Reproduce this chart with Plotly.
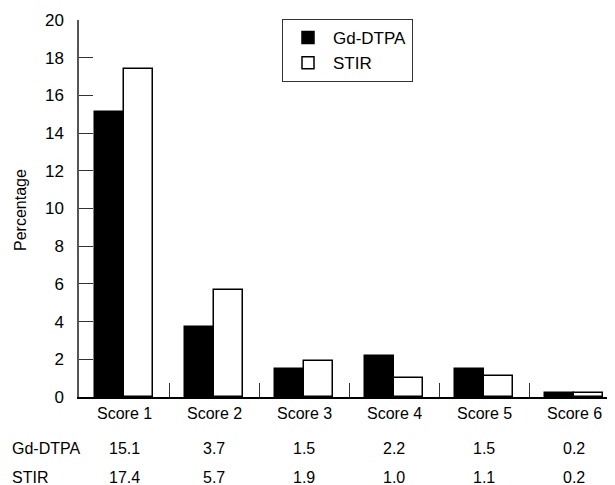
import plotly.graph_objects as go

categories = ["Score 1", "Score 2", "Score 3", "Score 4", "Score 5", "Score 6"]
gd_dtpa = [15.1, 3.7, 1.5, 2.2, 1.5, 0.2]
stir = [17.4, 5.7, 1.9, 1.0, 1.1, 0.2]
gd_labels = ["15.1", "3.7", "1.5", "2.2", "1.5", "0.2"]
stir_labels = ["17.4", "5.7", "1.9", "1.0", "1.1", "0.2"]
y_ticks = [0, 2, 4, 6, 8, 10, 12, 14, 16, 18, 20]

FONT = "Liberation Sans"
xs = list(range(len(categories)))
bw = 0.322

fig = go.Figure()
fig.add_trace(go.Bar(x=xs, y=gd_dtpa, name="Gd-DTPA", width=bw, offset=-bw,
                     marker=dict(color="black", line=dict(color="black", width=1.5))))
fig.add_trace(go.Bar(x=xs, y=stir, name="STIR", width=bw, offset=0,
                     marker=dict(color="white", line=dict(color="black", width=1.5))))

# page body has an 8px margin; compensate
OFF = 8
W, H = 615 - OFF, 485 - OFF
L, R, T = 79 - OFF, 0, 20 - OFF
B = H - (397 - OFF)
pw = W - L - R
ph = H - T - B
cat_px = 90.0

fig.update_layout(
    width=W, height=H,
    margin=dict(l=L, r=R, t=T, b=B, autoexpand=False),
    paper_bgcolor="white", plot_bgcolor="white",
    font=dict(family=FONT, size=16, color="black"),
    showlegend=True,
    legend=dict(x=(282 - 79) / pw, y=(397 - 19) / ph, xanchor="left", yanchor="top",
                bordercolor="#333", borderwidth=1, bgcolor="white",
                font=dict(size=17), itemwidth=40, tracegroupgap=0),
    bargap=0,
)
fig.update_xaxes(range=[-0.5, -0.5 + pw / cat_px], showgrid=False, zeroline=False,
                 showline=True, linecolor="black", linewidth=1.5,
                 tickvals=xs, ticktext=[""] * len(xs), ticks="",
                 minor=dict(tickvals=[i + 0.5 for i in xs[:-1]], ticks="inside",
                            ticklen=14, tickcolor="#333", tickwidth=1.2))
fig.update_yaxes(range=[0, 20], tickvals=y_ticks, showgrid=False, zeroline=False,
                 showline=True, linecolor="#555", linewidth=1.5,
                 ticks="inside", ticklen=14, tickcolor="#333", tickwidth=1.2,
                 ticklabelstandoff=10, tickfont=dict(size=17))

for i, c in enumerate(categories):
    fig.add_annotation(x=i, y=0, xref="x", yref="paper", text=c, showarrow=False,
                       yanchor="middle", yshift=-16, font=dict(size=16))
    fig.add_annotation(x=i, y=0, xref="x", yref="paper", text=gd_labels[i], showarrow=False,
                       yanchor="middle", yshift=-51, font=dict(size=16))
    fig.add_annotation(x=i, y=0, xref="x", yref="paper", text=stir_labels[i], showarrow=False,
                       yanchor="middle", yshift=-80, font=dict(size=16))

fig.add_annotation(x=(10 - 79) / pw, y=0, xref="paper", yref="paper", text="Gd-DTPA",
                   showarrow=False, xanchor="left", yanchor="middle", yshift=-51,
                   font=dict(size=16))
fig.add_annotation(x=(10 - 79) / pw, y=0, xref="paper", yref="paper", text="STIR",
                   showarrow=False, xanchor="left", yanchor="middle", yshift=-80,
                   font=dict(size=16))
fig.add_annotation(x=(20 - 79) / pw, y=(397 - 210) / ph, xref="paper", yref="paper",
                   text="Percentage", textangle=-90, showarrow=False,
                   xanchor="center", yanchor="middle", font=dict(size=16))

fig.write_html("out.html")
